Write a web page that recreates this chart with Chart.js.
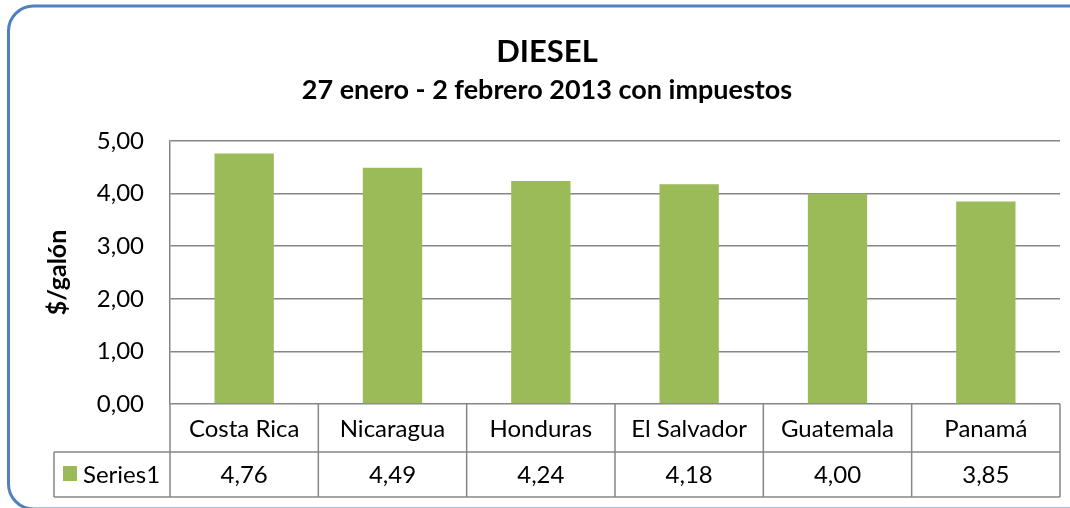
<!DOCTYPE html>
<html>
<head>
<meta charset="utf-8">
<script src="https://cdn.jsdelivr.net/npm/chart.js@4/dist/chart.umd.min.js"></script>
<style>
  html, body { margin: 0; padding: 0; background: #ffffff; }
  #wrap { width: 1070px; height: 508px; }
</style>
</head>
<body>
<div id="wrap"><canvas id="c" width="1070" height="508"></canvas></div>
<script>
const categories = ['Costa Rica', 'Nicaragua', 'Honduras', 'El Salvador', 'Guatemala', 'Panamá'];
const series1Values = [4.76, 4.49, 4.24, 4.18, 4.00, 3.85];
const seriesName = 'Series1';
const yTickValues = [0, 1, 2, 3, 4, 5];
const chartTitle = 'DIESEL';
const chartSubtitle = '27 enero - 2 febrero 2013 con impuestos';
const yAxisTitle = '$/galón';

const FONT = 'Lato, "Open Sans", sans-serif';
const GRID = '#868686';
const BAR = '#9BBB59';

function fmt(v) { return v.toFixed(2).replace('.', ','); }

const decorPlugin = {
  id: 'decor',
  afterDraw(chart) {
    const ctx = chart.ctx;
    const area = chart.chartArea;
    const xs = chart.scales.x;
    const n = categories.length;
    const cw = (area.right - area.left) / n;
    const rowTop = area.bottom;
    const rowMid = area.bottom + 48;
    const rowBot = area.bottom + 93;
    const tableLeft = 54;

    ctx.save();
    // table lines
    ctx.strokeStyle = GRID;
    ctx.lineWidth = 1.5;
    ctx.beginPath();
    ctx.moveTo(tableLeft, rowMid); ctx.lineTo(area.right, rowMid);
    ctx.moveTo(tableLeft, rowBot); ctx.lineTo(area.right, rowBot);
    ctx.moveTo(tableLeft, rowMid); ctx.lineTo(tableLeft, rowBot);
    for (let i = 0; i <= n; i++) {
      const cx = i < n ? xs.getPixelForTick(i) - cw / 2 : xs.getPixelForTick(n - 1) + cw / 2;
      ctx.moveTo(cx, rowTop); ctx.lineTo(cx, rowBot);
    }
    ctx.stroke();

    // table text
    ctx.fillStyle = '#000';
    ctx.font = '24px ' + FONT;
    ctx.textAlign = 'center';
    ctx.textBaseline = 'middle';
    for (let i = 0; i < n; i++) {
      const cx = xs.getPixelForTick(i);
      ctx.fillText(categories[i], cx, (rowTop + rowMid) / 2 + 1);
      ctx.fillText(fmt(series1Values[i]), cx, (rowMid + rowBot) / 2 + 1);
    }
    // legend key
    ctx.fillStyle = BAR;
    ctx.fillRect(63, 466, 14, 15);
    ctx.fillStyle = '#000';
    ctx.textAlign = 'left';
    ctx.fillText(seriesName, 83, (rowMid + rowBot) / 2 + 1);

    // titles
    ctx.textAlign = 'center';
    ctx.textBaseline = 'alphabetic';
    ctx.font = 'bold 31px ' + FONT;
    ctx.fillText(chartTitle, 547, 62);
    ctx.font = 'bold 27px ' + FONT;
    ctx.fillText(chartSubtitle, 547, 99);

    // y axis title
    ctx.save();
    ctx.translate(58, (area.top + area.bottom) / 2);
    ctx.rotate(-Math.PI / 2);
    ctx.textBaseline = 'middle';
    ctx.font = 'bold 25px ' + FONT;
    ctx.fillText(yAxisTitle, 0, 0);
    ctx.restore();

    // rounded outer border
    ctx.strokeStyle = '#4F81BD';
    ctx.lineWidth = 3;
    ctx.beginPath();
    ctx.roundRect(8.5, 6, 1085, 503, 25);
    ctx.stroke();
    ctx.restore();
  }
};

new Chart(document.getElementById('c'), {
  type: 'bar',
  data: {
    labels: categories,
    datasets: [{
      label: seriesName,
      data: series1Values,
      backgroundColor: BAR,
      borderWidth: 0,
      barPercentage: 0.4,
      categoryPercentage: 1.0
    }]
  },
  options: {
    responsive: false,
    animation: false,
    devicePixelRatio: 1,
    layout: { padding: { left: 10, top: 141, right: 10, bottom: 11 } },
    plugins: { legend: { display: false }, title: { display: false }, tooltip: { enabled: false } },
    scales: {
      x: {
        grid: { display: false },
        border: { display: false },
        ticks: { display: false },
        afterFit(s) { s.height = 93; }
      },
      y: {
        min: yTickValues[0],
        max: yTickValues[yTickValues.length - 1],
        afterBuildTicks(s) { s.ticks = yTickValues.map(v => ({ value: v })); },
        ticks: {
          color: '#000',
          font: { family: FONT, size: 24 },
          padding: 26,
          callback: (v) => fmt(v)
        },
        grid: { color: GRID, lineWidth: 1.5, drawTicks: false },
        border: { display: true, color: GRID, width: 1.5 },
        afterFit(s) { s.width = 160; }
      }
    }
  },
  plugins: [decorPlugin]
});
</script>
</body>
</html>
